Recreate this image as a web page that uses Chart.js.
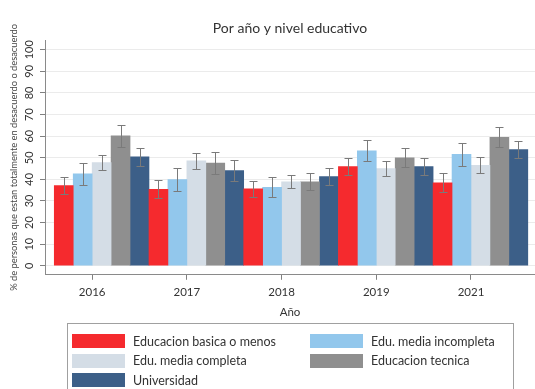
<!DOCTYPE html>
<html>
<head>
<meta charset="utf-8">
<script src="https://cdn.jsdelivr.net/npm/chart.js@4/dist/chart.umd.min.js"></script>
<style>
  html, body { margin: 0; padding: 0; background: #fff; }
  #wrap { position: relative; width: 535px; height: 389px; overflow: hidden; font-family: Lato, "Open Sans", sans-serif; }
  #c { position: absolute; left: 0; top: 0; }
  #legend { position: absolute; left: 67px; top: 323px; width: 447px; height: 90px; border: 1px solid #a0a0a0; box-sizing: border-box; }
  .item { position: absolute; height: 14px; display: flex; align-items: center; white-space: nowrap; font-size: 12.5px; color: #333; }
  .sw { width: 53px; height: 14px; margin-right: 8px; flex: none; }
</style>
</head>
<body>
<div id="wrap">
  <canvas id="c" width="535" height="389"></canvas>
  <div id="legend"></div>
</div>
<script>
const years = ['2016', '2017', '2018', '2019', '2021'];
const seriesNames = ['Educacion basica o menos', 'Edu. media incompleta', 'Edu. media completa', 'Educacion tecnica', 'Universidad'];
const seriesColors = ['#f52a2e', '#92c7ec', '#d4dde6', '#8f8f8f', '#3c5f88'];

const basica    = [37.1, 35.4, 35.6, 45.9, 38.4];
const mediaInc  = [42.6, 39.9, 36.3, 53.2, 51.6];
const mediaComp = [47.8, 48.6, 38.9, 45.0, 46.5];
const tecnica   = [60.1, 47.5, 38.9, 50.0, 59.5];
const univ      = [50.4, 44.1, 41.3, 45.9, 53.8];

const basicaErr    = [4.0, 4.1, 3.7, 4.1, 4.4];
const mediaIncErr  = [5.2, 5.4, 4.6, 4.9, 5.4];
const mediaCompErr = [3.5, 3.7, 3.0, 3.4, 3.7];
const tecnicaErr   = [4.9, 5.2, 4.0, 4.3, 4.6];
const univErr      = [4.2, 4.9, 4.1, 4.1, 4.0];

const yTicks = [0, 10, 20, 30, 40, 50, 60, 70, 80, 90, 100];

const seriesValues = [basica, mediaInc, mediaComp, tecnica, univ];
const seriesErrors = [basicaErr, mediaIncErr, mediaCompErr, tecnicaErr, univErr];

const datasets = seriesNames.map((name, s) => ({
  label: name,
  data: seriesValues[s].map((v, i) => ({ x: i, y: v })),
  errors: seriesErrors[s],
  backgroundColor: seriesColors[s],
  borderWidth: 0,
  categoryPercentage: 1.0,
  barPercentage: 1.0
}));

const tickShift = -0.1;

const errorBars = {
  id: 'errorBars',
  afterDatasetsDraw(chart) {
    const ctx = chart.ctx;
    const yScale = chart.scales.y;
    ctx.save();
    ctx.strokeStyle = '#7a7a7a';
    ctx.lineWidth = 1;
    chart.data.datasets.forEach((ds, di) => {
      const meta = chart.getDatasetMeta(di);
      meta.data.forEach((bar, i) => {
        const v = ds.data[i].y, e = ds.errors[i];
        const x = Math.round(bar.x) + 0.5;
        const yt = Math.round(yScale.getPixelForValue(v + e)) + 0.5;
        const yb = Math.round(yScale.getPixelForValue(v - e)) + 0.5;
        ctx.beginPath();
        ctx.moveTo(x, yt); ctx.lineTo(x, yb);
        ctx.moveTo(x - 4, yt); ctx.lineTo(x + 4, yt);
        ctx.moveTo(x - 4, yb); ctx.lineTo(x + 4, yb);
        ctx.stroke();
      });
    });
    ctx.restore();
  }
};

new Chart(document.getElementById('c'), {
  type: 'bar',
  data: { datasets },
  options: {
    responsive: false,
    animation: false,
    devicePixelRatio: 1,
    layout: { padding: { left: 0, right: 0, top: 0, bottom: 69.6 } },
    plugins: {
      legend: { display: false },
      tooltip: { enabled: false },
      title: {
        display: true,
        text: 'Por año y nivel educativo',
        fullSize: false,
        color: '#333',
        font: { family: 'Lato', size: 14, weight: 'normal' },
        padding: { top: 20.5, bottom: 2.7 }
      }
    },
    scales: {
      x: {
        type: 'linear',
        min: -0.598,
        max: 4.576,
        offset: false,
        afterBuildTicks: (axis) => { axis.ticks = years.map((y, i) => ({ value: i + tickShift })); },
        ticks: {
          callback: (v) => years[Math.round(v - tickShift)],
          color: '#333',
          font: { family: 'Lato', size: 11.5 },
          padding: 6,
          maxRotation: 0,
          autoSkip: false
        },
        grid: { display: true, offset: false, drawOnChartArea: false, tickLength: 5, tickColor: '#808080', color: '#808080' },
        border: { display: true, color: '#8a8a8a', width: 1 },
        title: { display: true, text: 'Año', color: '#333', font: { family: 'Lato', size: 11.5 }, padding: { top: 0, bottom: 0 } }
      },
      y: {
        type: 'linear',
        position: 'left',
        min: -4.17,
        max: 104.5,
        afterBuildTicks: (axis) => { axis.ticks = yTicks.map(v => ({ value: v })); },
        afterFit: (axis) => { axis.width = 45; },
        ticks: {
          color: '#333',
          font: { family: 'Lato', size: 11 },
          minRotation: 90,
          maxRotation: 90,
          crossAlign: 'center',
          padding: 1
        },
        grid: { color: '#ebebeb', tickColor: '#808080', tickLength: 5, lineWidth: 1 },
        border: { display: true, color: '#8a8a8a', width: 1 },
        title: {
          display: true,
          text: '% de personas que estan totalmente en desacuerdo o desacuerdo',
          color: '#444',
          font: { family: 'Lato', size: 9.3 },
          padding: { top: 8, bottom: 0 }
        }
      }
    }
  },
  plugins: [errorBars]
});

const legend = document.getElementById('legend');
seriesNames.forEach((name, i) => {
  const col = i % 2, row = Math.floor(i / 2);
  const item = document.createElement('div');
  item.className = 'item';
  item.style.left = (4 + col * 238) + 'px';
  item.style.top = (10 + row * 19.5) + 'px';
  const sw = document.createElement('span');
  sw.className = 'sw';
  sw.style.background = seriesColors[i];
  const tx = document.createElement('span');
  tx.textContent = name;
  item.appendChild(sw); item.appendChild(tx);
  legend.appendChild(item);
});
</script>
</body>
</html>
